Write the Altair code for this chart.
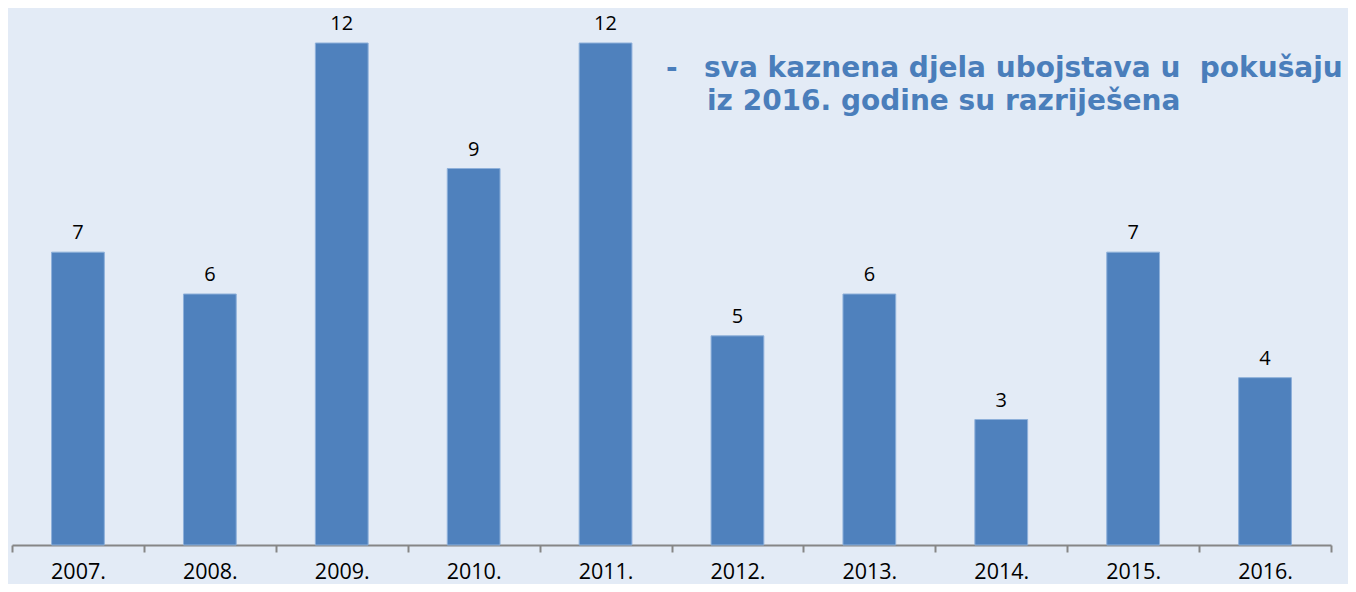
import altair as alt
import pandas as pd

years = ["2007.", "2008.", "2009.", "2010.", "2011.", "2012.", "2013.", "2014.", "2015.", "2016."]
values = [7, 6, 12, 9, 12, 5, 6, 3, 7, 4]
note_dash = "-"
note_lines = ["sva kaznena djela ubojstava u\u00a0\u00a0pokušaju", "iz 2016. godine su razriješena"]

df = pd.DataFrame({"year": years, "value": values})

W, H = 1319, 502
FONT = "Open Sans"
NOTE_FONT = "DejaVu Sans"
NOTE_COLOR = "#4A7EBB"

base = alt.Chart(df).encode(
    x=alt.X("year:N", sort=years,
            scale=alt.Scale(paddingInner=0, paddingOuter=0),
            axis=alt.Axis(title=None, labelAngle=0, labelFont=FONT, labelFontSize=21.5,
                          labelColor="#000000", labelPadding=9, tickBand="extent",
                          tickSize=7, tickColor="#868686", domainColor="#868686",
                          domainWidth=2, tickWidth=2, grid=False)),
    y=alt.Y("value:Q", scale=alt.Scale(domain=[0, 12], nice=False),
            axis=None),
)

bars = base.mark_bar(color="#4F81BD", stroke="#8EB0DA", strokeWidth=1,
                     width=alt.RelativeBandSize(0.4))
labels = base.mark_text(baseline="bottom", dy=-9, font=FONT, fontSize=20, color="#000000").encode(
    text="value:Q")

def note(txt, x, y):
    return alt.Chart(pd.DataFrame({"t": [txt]})).mark_text(
        align="left", baseline="alphabetic", font=NOTE_FONT, fontWeight="bold",
        fontSize=28, color=NOTE_COLOR).encode(x=alt.value(x), y=alt.value(y), text="t:N")

chart = alt.layer(
    bars, labels,
    note(note_dash, 654, 34),
    note(note_lines[0], 692, 34),
    note(note_lines[1], 695, 67),
).properties(
    width=W, height=H,
    background="#E3EBF6",
    padding={"left": 4, "top": 35, "right": 17, "bottom": 39},
    autosize=alt.AutoSizeParams(type="none"),
).configure_view(stroke=None)

chart.save("out.html", embed_options={"renderer": "svg", "actions": False})
